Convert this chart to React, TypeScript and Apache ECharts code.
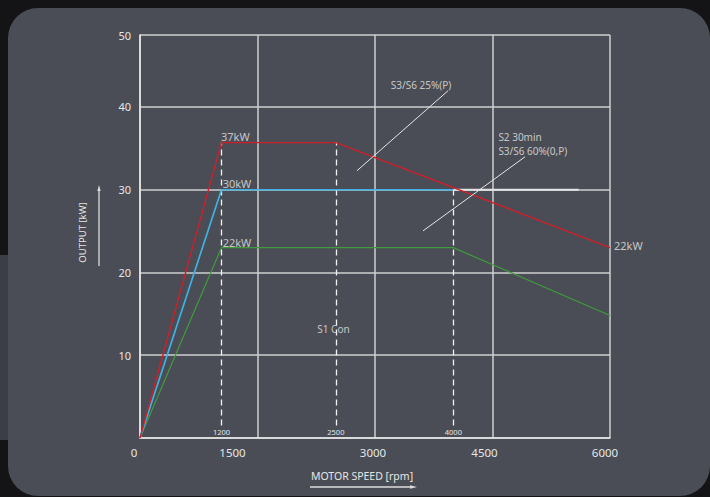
import React, { useEffect, useRef } from "react";
import * as echarts from "echarts";

// ---- data ----
const redSpeed = [0, 1040, 2500, 6000];
const redPower = [0, 35.7, 35.7, 23.0];
const blueSpeed = [0, 1040, 4000];
const bluePower = [0, 30, 30];
const whiteSpeed = [4000, 5600];
const whitePower = [30, 30];
const greenSpeed = [0, 1040, 4000, 6000];
const greenPower = [0, 23, 23, 14.8];

const markSpeeds = [1040, 2500, 4000];
const markTops = [35.7, 35.7, 30];
const markLabels = ["1200", "2500", "4000"];

const xTickLabels = ["0", "1500", "3000", "4500", "6000"];

const annoTexts = ["37kW", "30kW", "22kW", "22kW", "S3/S6 25%(P)", "S2 30min", "S3/S6 60%(0,P)", "S1 Con"];
const annoSpeed = [1034, 1055, 1055, 6051, 3587, 4575, 4575, 2470];
const annoPower = [36.4, 30.8, 23.66, 23.3, 42.6, 36.43, 34.74, 13.2];
const annoAlign = ["left", "left", "left", "left", "center", "left", "left", "center"];
const annoSize = [11, 11, 11, 11, 10, 10, 10, 10];

const leaderFrom = [[3932, 41.96], [4915, 33.98]];
const leaderTo = [[2770, 32.3], [3613, 25.03]];

const TXT = "#e6e6e6";
const FONT = "'Noto Sans', 'Open Sans', sans-serif";

export default function App() {
  const ref = useRef<HTMLDivElement>(null);
  useEffect(() => {
    if (!ref.current) return;
    const chart = echarts.init(ref.current, undefined, { renderer: "svg" });
    const zip = (a: number[], b: number[]) => a.map((v, i) => [v, b[i]]);
    const xShift: Record<string, number> = { "0": 12, "1500": 50, "3000": 4, "4500": 16, "6000": 10 };
    const rich: Record<string, any> = {};
    xTickLabels.forEach((t, i) => {
      rich["o" + i] = { color: TXT, fontSize: 11.5, fontFamily: FONT, padding: [0, xShift[t], 0, 0] };
    });
    const option: any = {
      animation: false,
      backgroundColor: "transparent",
      textStyle: { fontFamily: FONT },
      grid: { left: 140, right: 100, top: 35, bottom: 59, containLabel: false },
      xAxis: {
        type: "value",
        min: 0,
        max: 6000,
        interval: 1500,
        name: "MOTOR SPEED [rpm]",
        nameLocation: "middle",
        nameGap: 32,
        nameTextStyle: { color: TXT, fontSize: 10.5, fontFamily: FONT, padding: [0, 26, 0, 0] },
        axisLine: { show: true, lineStyle: { color: "#e8e8e8", width: 1.5 } },
        axisTick: { show: false },
        axisLabel: {
          margin: 8,
          formatter: (v: number) => {
            const i = xTickLabels.indexOf(String(v));
            return i >= 0 ? `{o${i}|${xTickLabels[i]}}` : "";
          },
          rich,
        },
        splitLine: { show: true, lineStyle: { color: "#cfcfcf", width: 1.5 } },
      },
      yAxis: {
        type: "value",
        min: 0,
        max: 48.7,
        interval: 10,
        name: "OUTPUT [kW]",
        nameLocation: "middle",
        nameGap: 53,
        nameRotate: 90,
        nameTextStyle: { color: TXT, fontSize: 9.5, fontFamily: FONT, padding: [0, 0, 0, 8] },
        axisLine: { show: true, lineStyle: { color: "#e8e8e8", width: 1.5 } },
        axisTick: { show: false },
        axisLabel: {
          color: TXT,
          fontSize: 11,
          fontFamily: FONT,
          margin: 9,
          formatter: (v: number) => (v === 0 ? "" : v > 45 ? "50" : String(v)),
        },
        splitLine: { show: true, lineStyle: { color: "#cfcfcf", width: 1.5 } },
      },
      series: [
        {
          type: "line",
          data: zip(whiteSpeed, whitePower),
          symbol: "none",
          lineStyle: { color: "#e4e4e4", width: 2 },
          z: 3,
        },
        {
          type: "line",
          data: zip(greenSpeed, greenPower),
          symbol: "none",
          lineStyle: { color: "#3f9b3d", width: 1.2 },
          z: 4,
        },
        {
          type: "line",
          data: zip(blueSpeed, bluePower),
          symbol: "none",
          lineStyle: { color: "#3fb2e3", width: 1.7 },
          z: 5,
        },
        {
          type: "line",
          data: zip(redSpeed, redPower),
          symbol: "none",
          lineStyle: { color: "#d01f2b", width: 1.4 },
          z: 6,
          markLine: {
            silent: true,
            symbol: ["none", "none"],
            lineStyle: { color: "#f2f2f2", type: [6, 4], width: 1.3 },
            label: { show: true, position: "start", distance: 2, color: TXT, fontSize: 7.5, fontFamily: FONT },
            data: markSpeeds.map((s, i) => [
              { coord: [s, 1.5], label: { formatter: markLabels[i] } },
              { coord: [s, markTops[i]] },
            ]),
          },
        },
        {
          type: "lines",
          coordinateSystem: "cartesian2d",
          polyline: false,
          silent: true,
          lineStyle: { color: "#e6e6e6", width: 1, opacity: 1 },
          data: leaderFrom.map((f, i) => ({ coords: [f, leaderTo[i]] })),
          z: 7,
        },
        {
          type: "scatter",
          symbolSize: 0,
          silent: true,
          clip: false,
          z: 8,
          data: annoTexts.map((t, i) => ({
            value: [annoSpeed[i], annoPower[i]],
            label: {
              show: true,
              formatter: t,
              position: [0, 0],
              align: annoAlign[i],
              verticalAlign: "middle",
              color: TXT,
              fontSize: annoSize[i],
              fontFamily: FONT,
            },
          })),
        },
      ],
      graphic: [
        {
          type: "line",
          shape: { x1: 99, y1: 266, x2: 99, y2: 190 },
          style: { stroke: "#dcdcdc", lineWidth: 1.3 },
        },
        {
          type: "polygon",
          shape: { points: [[99, 185], [97.3, 191], [100.7, 191]] },
          style: { fill: "#dcdcdc" },
        },
        {
          type: "line",
          shape: { x1: 310, y1: 487, x2: 411, y2: 487 },
          style: { stroke: "#dcdcdc", lineWidth: 1.3 },
        },
        {
          type: "polygon",
          shape: { points: [[417, 487], [410, 485.3], [410, 488.7]] },
          style: { fill: "#dcdcdc" },
        },
      ],
    };
    chart.setOption(option);
    return () => chart.dispose();
  }, []);

  return (
    <div style={{ position: "fixed", left: 0, top: 0, width: 710, height: 497, background: "#141416", overflow: "hidden" }}>
      <div style={{ position: "absolute", left: 0, top: 255, width: 10, height: 185, background: "#3b3e45" }} />
      <div
        style={{
          position: "absolute",
          left: 8,
          top: 8,
          width: 702,
          height: 488,
          borderRadius: 30,
          background: "#4a4d55",
        }}
      />
      <div ref={ref} style={{ position: "absolute", left: 0, top: 0, width: 710, height: 497 }} />
    </div>
  );
}
